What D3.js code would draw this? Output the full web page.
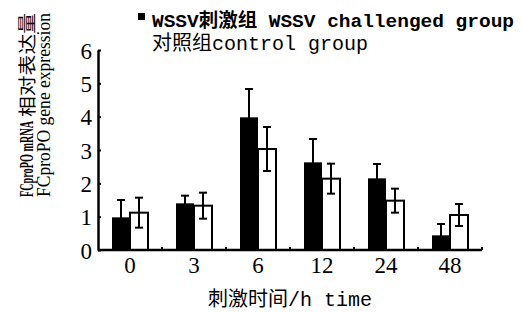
<!DOCTYPE html>
<html lang="zh">
<head>
<meta charset="utf-8">
<title>FCproPO expression</title>
<script src="https://cdn.jsdelivr.net/npm/d3@7"></script>
<style>
body { margin: 0; background: #fff; }
.num { font-family: "Liberation Serif", serif; font-size: 23px; fill: #000; }
.txt { font-family: "Liberation Mono", "Noto Sans CJK SC", monospace; fill: #000; }
.ser { font-family: "Liberation Serif", "Noto Sans CJK SC", serif; fill: #000; }
</style>
</head>
<body>
<script>
// time points (h)
var times = ['0', '3', '6', '12', '24', '48'];
// WSSV challenged group
var wssv = [0.98, 1.40, 3.98, 2.63, 2.15, 0.44];
var wssvErr = [0.52, 0.23, 0.85, 0.70, 0.43, 0.34];
// control group
var control = [1.12, 1.33, 3.03, 2.14, 1.48, 1.05];
var controlErr = [0.45, 0.39, 0.66, 0.45, 0.36, 0.33];
var yTicks = [0, 1, 2, 3, 4, 5, 6];

var W = 522, H = 313;
var svg = d3.select('body').append('svg')
    .attr('width', W)
    .attr('height', H);

//scales
var x = d3.scaleBand()
    .domain(times)
    .range([98, 482]);

var y = d3.scaleLinear()
    .domain([0, 6])
    .range([250, 50]);

var barW = 18;

var rows = times.map(function(t, i) {
    return { t: t, a: wssv[i], ae: wssvErr[i], b: control[i], be: controlErr[i] };
});

//bars
var g = svg.append('g');

g.selectAll('rect.black')
    .data(rows)
    .enter()
    .append('rect')
    .attr('class', 'black')
    .attr('x', function(d) { return x(d.t) + x.bandwidth() / 2 - barW; })
    .attr('y', function(d) { return y(d.a); })
    .attr('width', barW)
    .attr('height', function(d) { return y(0) - y(d.a); })
    .attr('fill', '#000');

g.selectAll('rect.white')
    .data(rows)
    .enter()
    .append('rect')
    .attr('class', 'white')
    .attr('x', function(d) { return x(d.t) + x.bandwidth() / 2; })
    .attr('y', function(d) { return y(d.b); })
    .attr('width', barW)
    .attr('height', function(d) { return y(0) - y(d.b); })
    .attr('fill', '#fff')
    .attr('stroke', '#000')
    .attr('stroke-width', 2);

//error bars
function errBars(cls, xOff, val, err) {
    var e = g.selectAll('g.' + cls)
        .data(rows)
        .enter()
        .append('g')
        .attr('class', cls)
        .attr('stroke', '#000')
        .attr('stroke-width', 2);
    var cx = function(d) { return x(d.t) + x.bandwidth() / 2 + xOff; };
    e.append('line')
        .attr('x1', cx).attr('x2', cx)
        .attr('y1', function(d) { return y(val(d) - err(d)); })
        .attr('y2', function(d) { return y(val(d) + err(d)); });
    e.append('line')
        .attr('x1', function(d) { return cx(d) - 4; })
        .attr('x2', function(d) { return cx(d) + 4; })
        .attr('y1', function(d) { return y(val(d) + err(d)); })
        .attr('y2', function(d) { return y(val(d) + err(d)); });
    e.append('line')
        .attr('x1', function(d) { return cx(d) - 4; })
        .attr('x2', function(d) { return cx(d) + 4; })
        .attr('y1', function(d) { return y(val(d) - err(d)); })
        .attr('y2', function(d) { return y(val(d) - err(d)); });
}
errBars('errA', -barW / 2, function(d) { return d.a; }, function(d) { return d.ae; });
errBars('errB', barW / 2, function(d) { return d.b; }, function(d) { return d.be; });

//axes
var yAxis = d3.axisLeft(y)
    .tickValues(yTicks)
    .tickFormat(d3.format('d'))
    .tickSizeInner(-3)
    .tickSizeOuter(0)
    .tickPadding(6);

var ya = svg.append('g')
    .attr('transform', 'translate(98,0)')
    .call(yAxis);
ya.select('.domain').attr('stroke-width', 2.5);
ya.selectAll('.tick line').attr('stroke-width', 2);
ya.selectAll('.tick text').attr('class', 'num').attr('dy', '0.36em');

var xa = svg.append('g')
    .attr('transform', 'translate(0,250)');
// baseline
xa.append('line')
    .attr('x1', x.range()[0]).attr('x2', x.range()[1])
    .attr('stroke', '#000').attr('stroke-width', 2.5);
// small ticks at the category edges
xa.selectAll('line.edge')
    .data(times.slice(1).concat(['end']))
    .enter()
    .append('line')
    .attr('class', 'edge')
    .attr('x1', function(d) { return d === 'end' ? x.range()[1] : x(d); })
    .attr('x2', function(d) { return d === 'end' ? x.range()[1] : x(d); })
    .attr('y1', 0).attr('y2', -3)
    .attr('stroke', '#000').attr('stroke-width', 2);
xa.selectAll('text.lab')
    .data(times)
    .enter()
    .append('text')
    .attr('class', 'num')
    .attr('x', function(d) { return x(d) + x.bandwidth() / 2; })
    .attr('y', 23)
    .attr('text-anchor', 'middle')
    .text(function(d) { return d; });

//axis titles
svg.append('text')
    .attr('class', 'txt')
    .attr('x', 290)
    .attr('y', 306)
    .attr('text-anchor', 'middle')
    .style('font-size', '20px')
    .text('刺激时间/h time');

svg.append('text')
    .attr('class', 'ser')
    .attr('transform', 'translate(33,197) rotate(-90)')
    .style('font-size', '19px')
    .style('font-weight', 'bold')
    .attr('textLength', 76)
    .attr('lengthAdjust', 'spacingAndGlyphs')
    .text('FCproPO mRNA');

svg.append('text')
    .attr('class', 'ser')
    .attr('transform', 'translate(34,117) rotate(-90)')
    .style('font-size', '18px')
    .attr('textLength', 104)
    .attr('lengthAdjust', 'spacingAndGlyphs')
    .text('相对表达量');

svg.append('text')
    .attr('class', 'ser')
    .attr('transform', 'translate(50,197) rotate(-90)')
    .style('font-size', '19px')
    .attr('textLength', 184)
    .attr('lengthAdjust', 'spacingAndGlyphs')
    .text('FCproPO gene expression');

//legend
svg.append('rect')
    .attr('x', 138).attr('y', 13)
    .attr('width', 7).attr('height', 7)
    .attr('fill', '#000');

svg.append('text')
    .attr('class', 'txt')
    .attr('x', 152).attr('y', 27)
    .style('font-size', '19px')
    .style('font-weight', 'bold')
    .attr('textLength', 362)
    .attr('lengthAdjust', 'spacingAndGlyphs')
    .text('WSSV刺激组 WSSV challenged group');

svg.append('text')
    .attr('class', 'txt')
    .attr('x', 152).attr('y', 50)
    .style('font-size', '20px')
    .attr('textLength', 216)
    .attr('lengthAdjust', 'spacingAndGlyphs')
    .text('对照组control group');
</script>
</body>
</html>
